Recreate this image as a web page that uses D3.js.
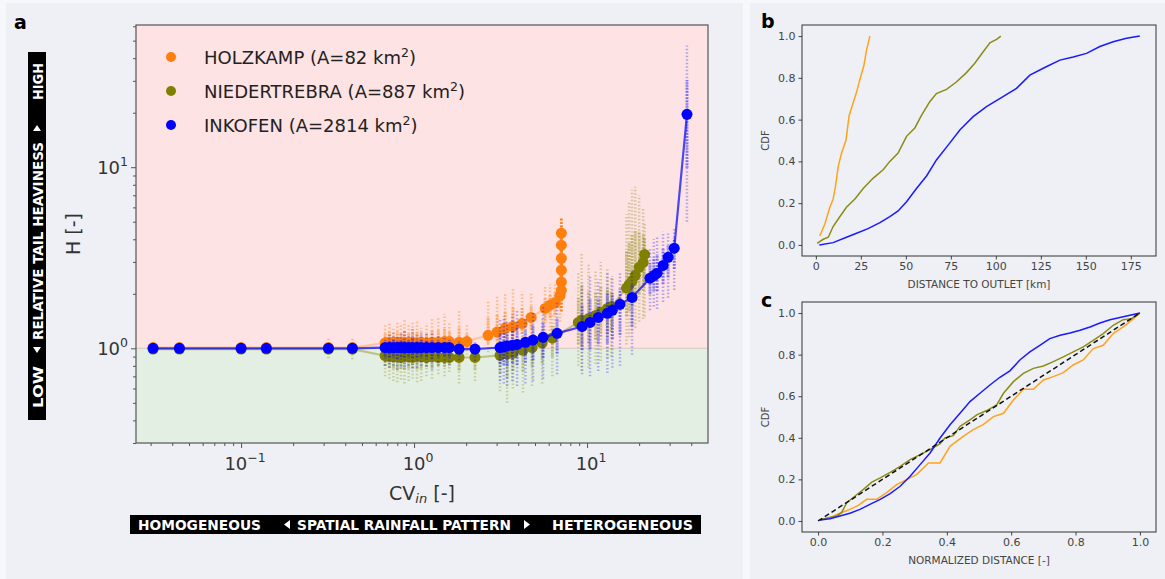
<!DOCTYPE html>
<html>
<head>
<meta charset="utf-8">
<script src="https://cdn.jsdelivr.net/npm/d3@7"></script>
<style>
body { margin: 0; background: #f7f8fb; }
text { font-family: "DejaVu Sans", sans-serif; }
</style>
</head>
<body>
<svg id="fig" width="1165" height="579"></svg>
<script>
// ---- panel a: H vs CV_in (markers = medians, lo/hi = spread of the scatter cloud)
var holzCv = [0.031, 0.044, 0.10, 0.14, 0.32, 0.44,
    0.68, 0.72, 0.76, 0.80, 0.84, 0.88, 0.93, 0.98, 1.04, 1.10, 1.18, 1.27, 1.38, 1.50, 1.60,
    1.82, 2.02, 2.68, 3.02, 3.36, 3.73, 4.21, 4.75, 5.72, 6.11, 6.53, 6.98,
    7.1, 7.1, 7.1, 7.1, 7.1, 7.1];
var holzH = [1.01, 1.01, 1.01, 1.01, 1.01, 1.01,
    1.07, 1.08, 1.07, 1.08, 1.07, 1.08, 1.07, 1.08, 1.07, 1.08, 1.07, 1.08, 1.08, 1.09, 1.09,
    1.08, 1.09, 1.18, 1.23, 1.29, 1.32, 1.37, 1.48, 1.66, 1.73, 1.79, 1.96,
    2.09, 2.32, 2.70, 3.14, 3.71, 4.32];
var holzLo = [1, 1, 1, 1, 0.97, 0.97,
    0.88, 0.86, 0.88, 0.87, 0.88, 0.86, 0.88, 0.87, 0.88, 0.86, 0.88, 0.87, 0.88, 0.90, 0.90,
    0.92, 0.92, 0.95, 0.97, 1.0, 1.02, 1.05, 1.1, 1.2, 1.25, 1.3, 1.4,
    1.6, 1.6, 1.6, 1.6, 1.6, 1.6];
var holzHi = [1.02, 1.02, 1.02, 1.02, 1.14, 1.16,
    1.35, 1.40, 1.30, 1.42, 1.38, 1.45, 1.35, 1.40, 1.42, 1.30, 1.38, 1.45, 1.50, 1.55, 1.40,
    1.60, 1.35, 1.85, 1.95, 2.0, 2.15, 2.05, 2.0, 2.2, 2.25, 2.3, 2.6,
    5.3, 5.3, 5.3, 5.3, 5.3, 5.3];

var niedCv = [0.031, 0.044, 0.10, 0.14, 0.32, 0.44,
    0.68, 0.72, 0.76, 0.80, 0.84, 0.88, 0.93, 0.98, 1.04, 1.10, 1.18, 1.27, 1.38, 1.50, 1.60,
    1.82, 2.25, 3.14, 3.45, 3.73, 4.26, 4.81, 5.50, 6.30,
    8.9, 9.3, 10.2, 11.2, 12.0, 13.1, 13.8,
    16.9, 17.5, 18.2, 19.0, 20.0, 21.1, 21.5];
var niedH = [0.99, 0.99, 0.99, 0.99, 0.99, 0.99,
    0.91, 0.90, 0.90, 0.90, 0.89, 0.90, 0.90, 0.89, 0.90, 0.90, 0.89, 0.90, 0.89, 0.89, 0.89,
    0.89, 0.89, 0.915, 0.93, 0.94, 0.975, 1.01, 1.07, 1.14,
    1.39, 1.43, 1.46, 1.52, 1.58, 1.66, 1.70,
    2.15, 2.25, 2.35, 2.53, 2.80, 2.98, 3.30];
var niedLo = [0.99, 0.99, 0.99, 0.99, 0.88, 0.87,
    0.70, 0.68, 0.66, 0.65, 0.67, 0.64, 0.66, 0.68, 0.65, 0.66, 0.70, 0.68, 0.72, 0.70, 0.74,
    0.64, 0.66, 0.58, 0.50, 0.60, 0.57, 0.62, 0.64, 0.70,
    0.80, 0.75, 0.78, 0.82, 0.85, 0.88, 0.90,
    1.05, 1.15, 1.25, 1.30, 1.40, 1.45, 1.50];
var niedHi = [1.0, 1.0, 1.0, 1.0, 1.02, 1.03,
    1.02, 1.0, 1.02, 1.0, 1.02, 1.0, 1.02, 1.0, 1.02, 1.0, 1.02, 1.0, 1.02, 1.0, 1.0,
    1.0, 1.0, 1.15, 1.20, 1.25, 1.25, 1.35, 1.45, 1.55,
    2.6, 3.4, 2.9, 2.7, 3.0, 2.8, 2.5,
    5.5, 6.5, 7.5, 7.8, 7.0, 6.0, 5.0];

var inkCv = [0.031, 0.044, 0.10, 0.14, 0.32, 0.44,
    0.68, 0.72, 0.76, 0.80, 0.84, 0.88, 0.93, 0.98, 1.04, 1.10, 1.18, 1.27, 1.38, 1.50, 1.60,
    1.82, 2.25, 3.14, 3.30, 3.45, 3.70, 3.94, 4.40, 4.87, 5.57, 6.71,
    9.36, 10.4, 11.6, 13.1, 14.0, 15.5, 18.2,
    23.1, 24.3, 25.4, 27.5, 29.4, 31.9, 37.8];
var inkH = [1.0, 1.0, 1.0, 1.0, 1.0, 1.0,
    1.01, 1.01, 1.01, 1.01, 1.01, 1.01, 1.01, 1.01, 1.01, 1.01, 1.01, 1.01, 1.01, 1.01, 1.01,
    0.99, 0.99, 1.01, 1.02, 1.03, 1.04, 1.05, 1.08, 1.11, 1.15, 1.21,
    1.32, 1.39, 1.48, 1.56, 1.62, 1.75, 1.91,
    2.44, 2.52, 2.60, 2.87, 3.18, 3.57, 19.6];
var inkLo = [1, 1, 1, 1, 1, 1,
    0.80, 0.78, 0.80, 0.76, 0.79, 0.78, 0.80, 0.77, 0.78, 0.80, 0.79, 0.76, 0.80, 0.82, 0.80,
    0.86, 0.85, 0.66, 0.64, 0.62, 0.66, 0.62, 0.64, 0.66, 0.68, 0.72,
    0.72, 0.70, 0.75, 0.73, 0.78, 0.80, 0.92,
    1.62, 1.70, 1.65, 1.80, 1.90, 2.10, 5.0];
var inkHi = [1, 1, 1, 1, 1, 1,
    1.15, 1.20, 1.25, 1.18, 1.22, 1.25, 1.20, 1.28, 1.22, 1.25, 1.20, 1.22, 1.18, 1.15, 1.12,
    1.10, 1.08, 1.45, 1.50, 1.40, 1.55, 1.62, 1.50, 1.60, 1.70, 1.80,
    2.3, 2.5, 2.4, 2.6, 2.5, 2.6, 2.7,
    3.6, 4.0, 4.2, 4.4, 4.3, 4.6, 47];

var legendNames = ["HOLZKAMP (A=82 km", "NIEDERTREBRA (A=887 km", "INKOFEN (A=2814 km"];
var colorsA = ["#ff7f0e", "#808000", "#0000ff"];

// ---- panel b: CDF of distance to outlet [km]
var distHolz = [2.2, 5.0, 7.8, 9.6, 10.9, 12.4, 14.3, 16.7, 18.5, 20.7, 22.9, 24.4, 26.7, 28.1, 30.0];
var cdfHolzB = [0.043, 0.10, 0.18, 0.22, 0.28, 0.375, 0.44, 0.50, 0.62, 0.68, 0.74, 0.79, 0.86, 0.93, 1.0];
var distNied = [0.7, 4.1, 6.9, 9.6, 13.3, 17.0, 21.7, 26.3, 31.9, 37.4, 41.1, 45.7, 48.5, 50.4, 55.0,
    58.7, 63.3, 67.0, 72.6, 78.1, 83.7, 88.3, 93.0, 96.7, 100.4, 102.8];
var cdfNiedB = [0.008, 0.027, 0.037, 0.088, 0.135, 0.18, 0.22, 0.27, 0.32, 0.36, 0.40, 0.44, 0.487, 0.52, 0.56,
    0.62, 0.686, 0.725, 0.745, 0.78, 0.825, 0.87, 0.925, 0.968, 0.984, 1.0];
var distInk = [1.9, 9.6, 17.0, 22.6, 29.0, 35.6, 41.1, 45.7, 50.4, 55.9, 61.5, 67.0, 73.5, 80.0, 87.4,
    94.8, 104.0, 111.5, 118.9, 128.0, 135.6, 143.0, 150.4, 157.8, 165.2, 172.6, 180.0];
var cdfInkB = [0.0, 0.011, 0.037, 0.056, 0.078, 0.107, 0.135, 0.163, 0.207, 0.27, 0.33, 0.407, 0.478, 0.55, 0.614,
    0.662, 0.71, 0.75, 0.813, 0.853, 0.885, 0.90, 0.917, 0.95, 0.973, 0.99, 1.0];

// ---- panel c: CDF of normalized distance [-]
var normHolz = [0.006, 0.037, 0.068, 0.099, 0.125, 0.151, 0.182, 0.213, 0.244, 0.275, 0.306, 0.343, 0.379, 0.41,
    0.451, 0.482, 0.513, 0.545, 0.576, 0.607, 0.638, 0.669, 0.70, 0.731, 0.762, 0.793, 0.824, 0.855, 0.886,
    0.917, 0.948, 0.974, 1.0];
var cdfHolzC = [0.005, 0.016, 0.037, 0.056, 0.075, 0.104, 0.104, 0.136, 0.175, 0.199, 0.223, 0.279, 0.279, 0.359,
    0.407, 0.439, 0.463, 0.502, 0.518, 0.582, 0.633, 0.633, 0.678, 0.694, 0.713, 0.75, 0.774, 0.829, 0.845,
    0.901, 0.933, 0.965, 1.0];
var normNied = [0.006, 0.032, 0.058, 0.073, 0.089, 0.115, 0.141, 0.167, 0.193, 0.224, 0.255, 0.286, 0.317, 0.348,
    0.379, 0.394, 0.42, 0.441, 0.472, 0.493, 0.524, 0.555, 0.576, 0.607, 0.638, 0.669, 0.70, 0.731, 0.762,
    0.793, 0.824, 0.855, 0.886, 0.917, 0.948, 0.974, 1.0];
var cdfNiedC = [0.005, 0.016, 0.024, 0.04, 0.088, 0.12, 0.152, 0.187, 0.207, 0.234, 0.263, 0.295, 0.319, 0.343,
    0.372, 0.399, 0.41, 0.455, 0.486, 0.51, 0.531, 0.558, 0.614, 0.67, 0.71, 0.734, 0.745, 0.766, 0.789,
    0.813, 0.837, 0.869, 0.901, 0.941, 0.968, 0.973, 1.0];
var normInk = [0.006, 0.037, 0.068, 0.099, 0.130, 0.161, 0.193, 0.224, 0.255, 0.286, 0.317, 0.348, 0.379, 0.41,
    0.441, 0.472, 0.503, 0.534, 0.565, 0.596, 0.627, 0.658, 0.689, 0.72, 0.752, 0.783, 0.814, 0.845, 0.876,
    0.907, 0.938, 0.969, 1.0];
var cdfInkC = [0.005, 0.011, 0.024, 0.037, 0.056, 0.08, 0.104, 0.132, 0.167, 0.215, 0.271, 0.327, 0.399, 0.463,
    0.518, 0.574, 0.614, 0.654, 0.691, 0.722, 0.774, 0.813, 0.845, 0.877, 0.893, 0.904, 0.917, 0.933, 0.952,
    0.968, 0.978, 0.989, 1.0];
var uniform = [0, 1];

var colorsBC = ["#ffa31a", "#8c8c14", "#1a1aff"];

var svg = d3.select("#fig");

// backgrounds of the two halves
svg.append("rect").attr("x", 6).attr("y", 3).attr("width", 737).attr("height", 576).attr("fill", "#eff0f5");
svg.append("rect").attr("x", 750).attr("y", 3).attr("width", 415).attr("height", 576).attr("fill", "#eff0f5");

// ================= panel a =================
var A = {left: 136, top: 25, right: 708, bottom: 443};
var xa = d3.scaleLog().domain([0.0247, 50]).range([A.left, A.right]);
var ya = d3.scaleLog().domain([0.30, 61]).range([A.bottom, A.top]);

svg.append("rect").attr("x", A.left).attr("y", A.top)
    .attr("width", A.right - A.left).attr("height", ya(1) - A.top).attr("fill", "#fde3e3");
svg.append("rect").attr("x", A.left).attr("y", ya(1))
    .attr("width", A.right - A.left).attr("height", A.bottom - ya(1)).attr("fill", "#e4efe3");
svg.append("line").attr("x1", A.left).attr("x2", A.right).attr("y1", ya(1)).attr("y2", ya(1))
    .attr("stroke", "#d6c9bd").attr("stroke-width", 1);

function drawSeries(cv, h, lo, hi, color, lineAlpha, cloudAlpha) {
    var g = svg.append("g");
    var idx = d3.range(cv.length);
    // scatter cloud: faint full spread, denser core around the median
    g.selectAll("line.cloud").data(idx).enter().append("line")
        .attr("x1", function (i) { return xa(cv[i]); })
        .attr("x2", function (i) { return xa(cv[i]); })
        .attr("y1", function (i) { return ya(lo[i]); })
        .attr("y2", function (i) { return ya(hi[i]); })
        .attr("stroke", color).attr("stroke-width", 2.5)
        .attr("stroke-dasharray", "1.5,2").attr("opacity", cloudAlpha);
    g.selectAll("line.core").data(idx).enter().append("line")
        .attr("x1", function (i) { return xa(cv[i]); })
        .attr("x2", function (i) { return xa(cv[i]); })
        .attr("y1", function (i) { return (ya(lo[i]) + ya(h[i])) / 2; })
        .attr("y2", function (i) { return (ya(hi[i]) + ya(h[i])) / 2; })
        .attr("stroke", color).attr("stroke-width", 3)
        .attr("stroke-dasharray", "2,1").attr("opacity", cloudAlpha + 0.07);
    // median line
    var line = d3.line()
        .x(function (i) { return xa(cv[i]); })
        .y(function (i) { return ya(h[i]); });
    g.append("path").attr("d", line(idx)).attr("fill", "none")
        .attr("stroke", color).attr("stroke-width", 2.2).attr("opacity", lineAlpha);
    g.selectAll("circle").data(idx).enter().append("circle")
        .attr("cx", function (i) { return xa(cv[i]); })
        .attr("cy", function (i) { return ya(h[i]); })
        .attr("r", 5.5).attr("fill", color);
}

drawSeries(holzCv, holzH, holzLo, holzHi, colorsA[0], 0.3, 0.4);
drawSeries(niedCv, niedH, niedLo, niedHi, colorsA[1], 0.4, 0.3);
drawSeries(inkCv, inkH, inkLo, inkHi, colorsA[2], 0.7, 0.28);

// axes
var minorX = [], minorY = [];
[0.01, 0.1, 1, 10].forEach(function (d) {
    for (var k = 2; k <= 9; k++) {
        var v = k * d;
        if (v > 0.0247 && v < 50) minorX.push(v);
        if (v > 0.30 && v < 61) minorY.push(v);
    }
});

function styleAxis(g) {
    g.select(".domain").remove();
    g.selectAll(".tick line").attr("stroke", "#555");
}

svg.append("g").attr("transform", "translate(0," + A.bottom + ")")
    .call(d3.axisBottom(xa).tickValues([0.1, 1, 10]).tickSize(5).tickFormat("")).call(styleAxis);
svg.append("g").attr("transform", "translate(0," + A.bottom + ")")
    .call(d3.axisBottom(xa).tickValues(minorX).tickSize(3).tickFormat("")).call(styleAxis);
svg.append("g").attr("transform", "translate(" + A.left + ",0)")
    .call(d3.axisLeft(ya).tickValues([1, 10]).tickSize(5).tickFormat("")).call(styleAxis);
svg.append("g").attr("transform", "translate(" + A.left + ",0)")
    .call(d3.axisLeft(ya).tickValues(minorY).tickSize(3).tickFormat("")).call(styleAxis);

svg.append("rect").attr("x", A.left).attr("y", A.top)
    .attr("width", A.right - A.left).attr("height", A.bottom - A.top)
    .attr("fill", "none").attr("stroke", "#555").attr("stroke-width", 1.2);

var xExp = [[0.1, "\u22121"], [1, "0"], [10, "1"]];
xExp.forEach(function (d) {
    var t = svg.append("text").attr("x", xa(d[0]) + 4).attr("y", 470)
        .attr("text-anchor", "middle").attr("font-size", 18).attr("fill", "#333").text("10");
    t.append("tspan").attr("dy", -8).attr("font-size", 12.5).text(d[1]);
});
[[1, "0"], [10, "1"]].forEach(function (d) {
    var t = svg.append("text").attr("x", 128).attr("y", ya(d[0]) + 7)
        .attr("text-anchor", "end").attr("font-size", 18).attr("fill", "#333").text("10");
    t.append("tspan").attr("dy", -8).attr("font-size", 12.5).text(d[1]);
});

svg.append("text").attr("transform", "translate(80," + ((A.top + A.bottom) / 2) + ") rotate(-90)")
    .attr("text-anchor", "middle").attr("font-size", 19).attr("fill", "#333").text("H [-]");

var cvLab = svg.append("text").attr("x", (A.left + A.right) / 2).attr("y", 500)
    .attr("text-anchor", "middle").attr("font-size", 19).attr("fill", "#333").text("CV");
cvLab.append("tspan").attr("font-size", 13).attr("font-style", "italic").attr("dy", 3).text("in");
cvLab.append("tspan").attr("dy", -3).text(" [-]");

// legend
legendNames.forEach(function (name, i) {
    var cy = 57 + i * 34;
    svg.append("circle").attr("cx", 171).attr("cy", cy).attr("r", 5).attr("fill", colorsA[i]);
    var t = svg.append("text").attr("x", 204).attr("y", cy + 6.5)
        .attr("font-size", 18).attr("fill", "#222").text(name);
    t.append("tspan").attr("dy", -7).attr("font-size", 12.5).text("2");
    t.append("tspan").attr("dy", 7).text(")");
});

// panel label a
svg.append("text").attr("x", 14).attr("y", 29).attr("font-family", "Liberation Sans, Arial, sans-serif")
    .attr("font-weight", "bold").attr("font-size", 19).attr("fill", "#000").text("a");

// black annotation bars
var barFont = "Liberation Sans, Arial, sans-serif";
svg.append("rect").attr("x", 28).attr("y", 52).attr("width", 18).attr("height", 368).attr("fill", "#000");
function vText(txt, yStart, len) {
    svg.append("text").attr("transform", "translate(43," + yStart + ") rotate(-90)")
        .attr("font-family", barFont).attr("font-weight", "bold").attr("font-size", 14.5)
        .attr("fill", "#fff").attr("textLength", len).attr("lengthAdjust", "spacingAndGlyphs").text(txt);
}
vText("LOW", 408, 42);
vText("RELATIVE TAIL HEAVINESS", 340, 198);
vText("HIGH", 100, 37);
// small triangles on the vertical bar
svg.append("path").attr("d", "M33,347 L41,347 L37,353 Z").attr("fill", "#fff");
svg.append("path").attr("d", "M33,131 L41,131 L37,125 Z").attr("fill", "#fff");

svg.append("rect").attr("x", 130).attr("y", 515).attr("width", 571).attr("height", 19).attr("fill", "#000");
function hText(txt, xStart, len) {
    svg.append("text").attr("x", xStart).attr("y", 530)
        .attr("font-family", barFont).attr("font-weight", "bold").attr("font-size", 14.5)
        .attr("fill", "#fff").attr("textLength", len).attr("lengthAdjust", "spacingAndGlyphs").text(txt);
}
hText("HOMOGENEOUS", 138, 123);
hText("SPATIAL RAINFALL PATTERN", 297, 214);
hText("HETEROGENEOUS", 552, 141);
svg.append("path").attr("d", "M290,520 L290,529 L284,524.5 Z").attr("fill", "#fff");
svg.append("path").attr("d", "M524,520 L524,529 L530,524.5 Z").attr("fill", "#fff");

// ================= panels b and c =================
function cdfPanel(box, xdom, xticks, xfmt, xlabel, series, dashed) {
    var x = d3.scaleLinear().domain(xdom).range([box.left, box.right]);
    var y = d3.scaleLinear().domain([-0.053, 1.053]).range([box.bottom, box.top]);
    var g = svg.append("g");

    g.append("g").attr("transform", "translate(0," + box.bottom + ")")
        .call(d3.axisBottom(x).tickValues(xticks).tickSize(3.5).tickPadding(3).tickFormat(d3.format(xfmt)))
        .call(function (a) {
            a.select(".domain").remove();
            a.selectAll("text").attr("font-size", 11).attr("fill", "#444").attr("font-family", "DejaVu Sans");
            a.selectAll(".tick line").attr("stroke", "#444");
        });
    g.append("g").attr("transform", "translate(" + box.left + ",0)")
        .call(d3.axisLeft(y).tickValues([0, 0.2, 0.4, 0.6, 0.8, 1.0]).tickSize(3.5).tickPadding(3).tickFormat(d3.format(".1f")))
        .call(function (a) {
            a.select(".domain").remove();
            a.selectAll("text").attr("font-size", 11).attr("fill", "#444").attr("font-family", "DejaVu Sans");
            a.selectAll(".tick line").attr("stroke", "#444");
        });

    series.forEach(function (s) {
        var line = d3.line()
            .x(function (d, i) { return x(s.xs[i]); })
            .y(function (d) { return y(d); });
        g.append("path").attr("d", line(s.ys)).attr("fill", "none")
            .attr("stroke", s.color).attr("stroke-width", 1.5);
    });
    if (dashed) {
        var dl = d3.line().x(function (d) { return x(d); }).y(function (d) { return y(d); });
        g.append("path").attr("d", dl(uniform)).attr("fill", "none")
            .attr("stroke", "#111").attr("stroke-width", 1.5).attr("stroke-dasharray", "5,3");
    }

    g.append("rect").attr("x", box.left).attr("y", box.top)
        .attr("width", box.right - box.left).attr("height", box.bottom - box.top)
        .attr("fill", "none").attr("stroke", "#333").attr("stroke-width", 1);

    g.append("text").attr("transform", "translate(769," + ((box.top + box.bottom) / 2) + ") rotate(-90)")
        .attr("text-anchor", "middle").attr("font-size", 10).attr("fill", "#444").text("CDF");
    g.append("text").attr("x", (box.left + box.right) / 2).attr("y", box.bottom + 32)
        .attr("text-anchor", "middle").attr("font-size", 10.5).attr("fill", "#444").text(xlabel);
}

cdfPanel({left: 802, right: 1156, top: 25, bottom: 256}, [-7.7, 189],
    [0, 25, 50, 75, 100, 125, 150, 175], "d", "DISTANCE TO OUTLET [km]", [
        {xs: distHolz, ys: cdfHolzB, color: colorsBC[0]},
        {xs: distNied, ys: cdfNiedB, color: colorsBC[1]},
        {xs: distInk, ys: cdfInkB, color: colorsBC[2]}
    ], false);

cdfPanel({left: 802, right: 1156, top: 302, bottom: 532}, [-0.05, 1.05],
    [0, 0.2, 0.4, 0.6, 0.8, 1.0], ".1f", "NORMALIZED DISTANCE [-]", [
        {xs: normHolz, ys: cdfHolzC, color: colorsBC[0]},
        {xs: normNied, ys: cdfNiedC, color: colorsBC[1]},
        {xs: normInk, ys: cdfInkC, color: colorsBC[2]}
    ], true);

svg.append("text").attr("x", 761).attr("y", 28).attr("font-family", "Liberation Sans, Arial, sans-serif")
    .attr("font-weight", "bold").attr("font-size", 19).attr("fill", "#000").text("b");
svg.append("text").attr("x", 761).attr("y", 307).attr("font-family", "Liberation Sans, Arial, sans-serif")
    .attr("font-weight", "bold").attr("font-size", 19).attr("fill", "#000").text("c");
</script>
</body>
</html>
